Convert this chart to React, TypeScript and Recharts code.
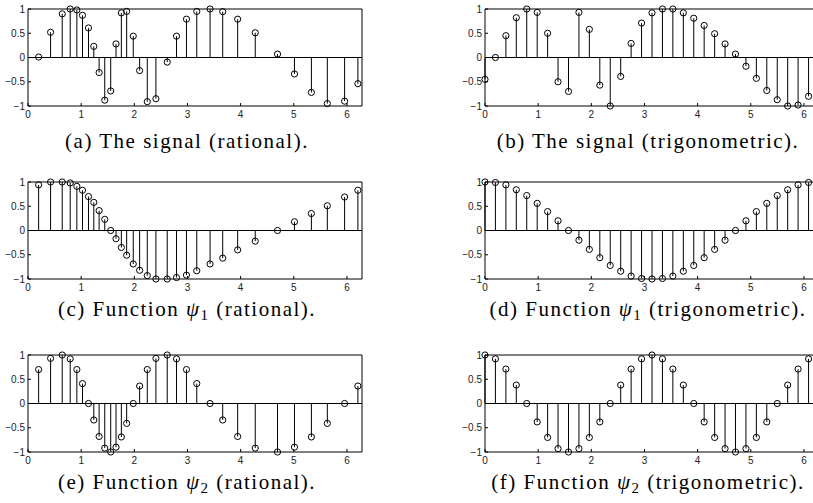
import React from 'react';
import { ComposedChart, Scatter, XAxis, YAxis, ReferenceLine, ErrorBar } from 'recharts';

const TWO_PI = 6.2832;
const xTicks = [0, 1, 2, 3, 4, 5, 6];
const yTicks = [-1, -0.5, 0, 0.5, 1];

const xRational = [0.2, 0.425, 0.644, 0.794, 0.919, 1.025, 1.138, 1.238, 1.338, 1.444, 1.556, 1.656, 1.756, 1.856, 1.98, 2.1, 2.244, 2.406, 2.619, 2.794, 2.981, 3.175, 3.425, 3.663, 3.944, 4.275, 4.694, 5.013, 5.331, 5.631, 5.956, 6.206];
const xTrig = [0, 0.196, 0.393, 0.589, 0.785, 0.982, 1.178, 1.374, 1.571, 1.767, 1.963, 2.16, 2.356, 2.553, 2.749, 2.945, 3.142, 3.338, 3.534, 3.731, 3.927, 4.123, 4.32, 4.516, 4.712, 4.909, 5.105, 5.301, 5.498, 5.694, 5.89, 6.087];

const signalRational = [0.01, 0.52, 0.9, 1.0, 0.98, 0.87, 0.61, 0.23, -0.31, -0.88, -0.69, 0.28, 0.92, 0.95, 0.44, -0.27, -0.91, -0.85, -0.095, 0.44, 0.79, 0.95, 1.0, 0.945, 0.79, 0.51, 0.07, -0.34, -0.72, -0.95, -0.9, -0.54];
const signalTrig = [-0.45, 0, 0.45, 0.82, 1.0, 0.93, 0.5, -0.5, -0.7, 0.93, 0.58, -0.57, -1.0, -0.39, 0.29, 0.71, 0.92, 1.0, 1.0, 0.92, 0.81, 0.66, 0.49, 0.28, 0.07, -0.18, -0.43, -0.68, -0.87, -1.0, -0.98, -0.8];
const psi1Rational = [0.94, 1.0, 1.0, 0.98, 0.91, 0.83, 0.7, 0.58, 0.41, 0.23, 0.0, -0.17, -0.35, -0.51, -0.69, -0.82, -0.93, -1.0, -1.0, -0.97, -0.92, -0.83, -0.69, -0.57, -0.4, -0.22, 0.0, 0.18, 0.35, 0.51, 0.69, 0.83];
const psi1Trig = [1.0, 0.99, 0.94, 0.84, 0.72, 0.56, 0.39, 0.2, 0, -0.2, -0.39, -0.56, -0.72, -0.84, -0.94, -0.99, -1.0, -0.99, -0.94, -0.84, -0.72, -0.56, -0.39, -0.2, 0, 0.2, 0.39, 0.56, 0.72, 0.84, 0.94, 0.99];
const psi2Rational = [0.7, 0.93, 1.0, 0.92, 0.7, 0.41, 0.0, -0.34, -0.68, -0.92, -1.0, -0.9, -0.69, -0.41, 0, 0.36, 0.7, 0.93, 1.0, 0.92, 0.7, 0.41, 0, -0.34, -0.68, -0.92, -1.0, -0.9, -0.69, -0.41, 0, 0.36];
const psi2Trig = [1.0, 0.92, 0.71, 0.38, 0, -0.38, -0.7, -0.93, -1.0, -0.93, -0.7, -0.38, 0, 0.38, 0.71, 0.92, 1.0, 0.92, 0.71, 0.38, 0, -0.38, -0.7, -0.93, -1.0, -0.93, -0.7, -0.38, 0, 0.38, 0.71, 0.92];

const PLOT_W = 334;
const PLOT_H = 97;
const Y_AXIS_W = 30;
const TOP_PAD = 5;
const X_AXIS_H = 22;

const fmtY = (v: number) => (v < 0 ? '\u2212' + Math.abs(v) : String(v));
const tickStyle = { fontSize: 10, fill: '#222', fontFamily: 'Liberation Sans, Arial, sans-serif' };

function Circle(p: any) {
  if (p.cx == null || p.cy == null) return null;
  return <circle cx={p.cx} cy={p.cy} r={3.1} fill="none" stroke="#000" strokeWidth={1} />;
}

function Empty() {
  return <g />;
}

function StemPanel({ xs, ys, left, top }: { xs: number[]; ys: number[]; left: number; top: number }) {
  const data = xs.map((x, i) => ({ x, y: ys[i], err: ys[i] >= 0 ? [ys[i], 0] : [0, -ys[i]] }));
  return (
    <div style={{ position: 'absolute', left: left - Y_AXIS_W, top: top - TOP_PAD }}>
      <ComposedChart
        width={Y_AXIS_W + PLOT_W + 1 + 6}
        height={TOP_PAD + PLOT_H + X_AXIS_H}
        margin={{ top: TOP_PAD - 1, right: 6, bottom: 0, left: 0 }}
      >
        <XAxis
          dataKey="x"
          type="number"
          domain={[0, TWO_PI]}
          ticks={xTicks}
          interval={0}
          height={X_AXIS_H}
          tickSize={-3}
          tickMargin={7.5}
          tick={tickStyle}
          axisLine={{ stroke: '#000' }}
          tickLine={{ stroke: '#000' }}
        />
        <XAxis
          xAxisId="top"
          dataKey="x"
          orientation="top"
          type="number"
          domain={[0, TWO_PI]}
          ticks={xTicks}
          interval={0}
          height={1}
          tickSize={-3}
          tick={false}
          axisLine={{ stroke: '#000' }}
          tickLine={{ stroke: '#000' }}
        />
        <YAxis
          type="number"
          domain={[-1, 1]}
          ticks={yTicks}
          interval={0}
          width={Y_AXIS_W}
          tickSize={-3}
          tickMargin={6}
          tick={tickStyle}
          tickFormatter={fmtY}
          axisLine={{ stroke: '#000' }}
          tickLine={{ stroke: '#000' }}
        />
        <YAxis
          yAxisId="right"
          orientation="right"
          type="number"
          domain={[-1, 1]}
          ticks={yTicks}
          interval={0}
          width={1}
          tickSize={-3}
          tick={false}
          axisLine={{ stroke: '#000' }}
          tickLine={{ stroke: '#000' }}
        />
        <ReferenceLine y={0} stroke="#000" strokeWidth={1} />
        <Scatter data={data} dataKey="y" xAxisId="top" yAxisId="right" isAnimationActive={false} shape={<Empty />} />
        <Scatter data={data} dataKey="y" isAnimationActive={false} shape={<Circle />}>
          <ErrorBar dataKey="err" direction="y" width={0} stroke="#000" strokeWidth={1} isAnimationActive={false} />
        </Scatter>
      </ComposedChart>
    </div>
  );
}

const captionFont = { fontFamily: 'Liberation Serif, Times New Roman, serif', fontSize: 21, letterSpacing: 1.5, fill: '#000' };

function Caption({ x, y, label, psi, rest }: { x: number; y: number; label: string; psi?: string; rest: string }) {
  return (
    <text x={x} y={y} textAnchor="middle" {...captionFont}>
      {label}
      {psi ? (
        <>
          <tspan fontStyle="italic">{'\u03C8'}</tspan>
          <tspan fontSize={15} dy={4}>{psi}</tspan>
          <tspan dy={-4}>{rest}</tspan>
        </>
      ) : (
        rest
      )}
    </text>
  );
}

export default function App() {
  const leftX = 28;
  const rightX = 485;
  const rows = [9, 182, 355];
  const capY = [148, 316, 489];
  const capLX = 187;
  const capRX = 648;
  return (
    <div style={{ position: 'absolute', left: 0, top: 0, width: 813, height: 503, overflow: 'hidden', background: '#fff' }}>
      <StemPanel xs={xRational} ys={signalRational} left={leftX} top={rows[0]} />
      <StemPanel xs={xTrig} ys={signalTrig} left={rightX} top={rows[0]} />
      <StemPanel xs={xRational} ys={psi1Rational} left={leftX} top={rows[1]} />
      <StemPanel xs={xTrig} ys={psi1Trig} left={rightX} top={rows[1]} />
      <StemPanel xs={xRational} ys={psi2Rational} left={leftX} top={rows[2]} />
      <StemPanel xs={xTrig} ys={psi2Trig} left={rightX} top={rows[2]} />
      <svg width={813} height={503} style={{ position: 'absolute', left: 0, top: 0, pointerEvents: 'none' }}>
        <Caption x={capLX} y={capY[0]} label="(a) The signal (rational)." rest="" />
        <Caption x={capRX} y={capY[0]} label="(b) The signal (trigonometric)." rest="" />
        <Caption x={capLX} y={capY[1]} label="(c) Function " psi="1" rest=" (rational)." />
        <Caption x={capRX} y={capY[1]} label="(d) Function " psi="1" rest=" (trigonometric)." />
        <Caption x={capLX} y={capY[2]} label="(e) Function " psi="2" rest=" (rational)." />
        <Caption x={capRX} y={capY[2]} label="(f) Function " psi="2" rest=" (trigonometric)." />
      </svg>
    </div>
  );
}
